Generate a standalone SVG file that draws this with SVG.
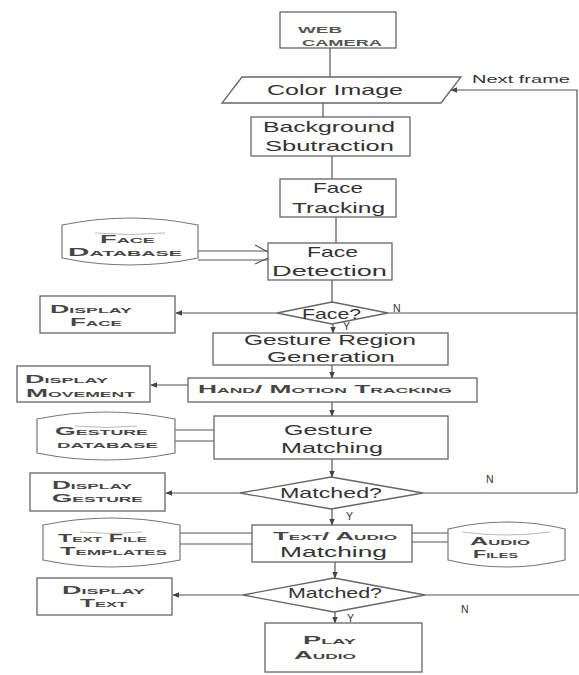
<svg xmlns="http://www.w3.org/2000/svg" width="579" height="675" viewBox="0 0 579 675">
<style>
.bx{fill:#fff;stroke:#666;stroke-width:1.3}
.cy{fill:#fff;stroke:#777;stroke-width:1.2}
.in{fill:none;stroke:#bbb;stroke-width:1}
.ln{fill:none;stroke:#555;stroke-width:1.2}
.t{font-family:"Liberation Sans",Arial,sans-serif;font-size:14.5px;fill:#333;text-anchor:start}
.sc{font-family:"Liberation Sans",Arial,sans-serif;font-size:10.5px;font-weight:bold;font-variant:small-caps;fill:#454545}
.cap{font-family:"Liberation Sans",Arial,sans-serif;font-size:9px;font-weight:bold;fill:#555}
.lb{font-family:"Liberation Sans",Arial,sans-serif;font-size:10.5px;fill:#333}
</style>
<defs>
<marker id="ah" viewBox="0 0 10 10" refX="9" refY="5" markerWidth="7" markerHeight="7" markerUnits="userSpaceOnUse" orient="auto">
<path d="M0,1 L10,5 L0,9 Z" fill="#444"/>
</marker>
</defs>
<rect width="579" height="675" fill="#fff"/>

<g id="connectors">
<path class="ln" d="M330,48 V77"/>
<path class="ln" d="M323,103 V117"/>
<path class="ln" d="M332,156 V179"/>
<path class="ln" d="M336,217 V243"/>
<path class="ln" d="M332,280 V302"/>
<path class="ln" d="M277,313 H176" marker-end="url(#ah)"/>
<path class="ln" d="M388,313 H577"/>
<path class="ln" d="M577,493 V90 H451" marker-end="url(#ah)"/>
<path class="ln" d="M333,324 V333" marker-end="url(#ah)"/>
<path class="ln" d="M332,365 V378" marker-end="url(#ah)"/>
<path class="ln" d="M188,385 H151" marker-end="url(#ah)"/>
<path class="ln" d="M332,402 V416" marker-end="url(#ah)"/>
<path class="ln" d="M175,430 H214 M175,441 H214"/>
<path class="ln" d="M332,459 V477" marker-end="url(#ah)"/>
<path class="ln" d="M240,493 H166" marker-end="url(#ah)"/>
<path class="ln" d="M423,493 H577"/>
<path class="ln" d="M332,509 V525" marker-end="url(#ah)"/>
<path class="ln" d="M180,533 H252 M180,544 H252"/>
<path class="ln" d="M412,533 H448 M412,542 H448"/>
<path class="ln" d="M335,562 V578" marker-end="url(#ah)"/>
<path class="ln" d="M243,595 H173" marker-end="url(#ah)"/>
<path class="ln" d="M425,595 H579"/>
<path class="ln" d="M335,612 V623" marker-end="url(#ah)"/>
<path class="ln" d="M198,251 H268 M198,260 H268"/>
<path class="ln" stroke-width="0.8" d="M255,245 L268,252 M255,264 L268,258"/>
<text class="lb" x="472" y="83" textLength="98" lengthAdjust="spacingAndGlyphs">Next frame</text>
<text class="lb" x="393" y="312">N</text>
<text class="lb" x="343" y="330">Y</text>
<text class="lb" x="486" y="483">N</text>
<text class="lb" x="346" y="520">Y</text>
<text class="lb" x="461" y="613">N</text>
<text class="lb" x="347" y="622">Y</text>
</g>

<g id="web-camera">
<rect class="bx" x="280" y="12" width="116" height="36"/>
<text class="cap" x="298" y="33" textLength="44" lengthAdjust="spacingAndGlyphs">WEB</text>
<text class="cap" x="302" y="46" textLength="80" lengthAdjust="spacingAndGlyphs">CAMERA</text>
</g>

<g id="color-image">
<path class="bx" d="M242,77 H461 L441,103 H222 Z"/>
<text class="t" x="267" y="95" textLength="136" lengthAdjust="spacingAndGlyphs">Color Image</text>
</g>

<g id="background-subtraction">
<rect class="bx" x="251" y="117" width="159" height="39"/>
<text class="t" x="263" y="132" textLength="132" lengthAdjust="spacingAndGlyphs">Background</text>
<text class="t" x="265" y="151" textLength="129" lengthAdjust="spacingAndGlyphs">Sbutraction</text>
</g>

<g id="face-tracking">
<rect class="bx" x="280" y="179" width="116" height="38"/>
<text class="t" x="313" y="193" textLength="50" lengthAdjust="spacingAndGlyphs">Face</text>
<text class="t" x="292" y="213" textLength="93" lengthAdjust="spacingAndGlyphs">Tracking</text>
</g>

<g id="face-database">
<path class="cy" d="M62,225 Q130,211 198,225 V258 Q130,272 62,258 Z"/>
<path class="in" d="M95,233 Q130,236 165,233"/>
<text class="sc" x="100" y="243" textLength="55" lengthAdjust="spacingAndGlyphs">Face</text>
<text class="sc" x="68" y="256" textLength="114" lengthAdjust="spacingAndGlyphs">Database</text>
</g>

<g id="face-detection">
<rect class="bx" x="268" y="243" width="124" height="37"/>
<text class="t" x="307" y="257" textLength="51" lengthAdjust="spacingAndGlyphs">Face</text>
<text class="t" x="272" y="276" textLength="115" lengthAdjust="spacingAndGlyphs">Detection</text>
</g>

<g id="face-decision">
<path class="bx" d="M332,302 L388,313 L332,324 L277,313 Z"/>
<text class="t" x="302" y="319" textLength="59" lengthAdjust="spacingAndGlyphs">Face?</text>
</g>

<g id="display-face">
<rect class="bx" x="40" y="296" width="135" height="37"/>
<text class="sc" x="50" y="313" textLength="82" lengthAdjust="spacingAndGlyphs">Display</text>
<text class="sc" x="70" y="326" textLength="52" lengthAdjust="spacingAndGlyphs">Face</text>
</g>

<g id="gesture-region">
<rect class="bx" x="213" y="333" width="235" height="32"/>
<text class="t" x="244" y="345" textLength="172" lengthAdjust="spacingAndGlyphs">Gesture Region</text>
<text class="t" x="267" y="362" textLength="128" lengthAdjust="spacingAndGlyphs">Generation</text>
</g>

<g id="hand-motion-tracking">
<rect class="bx" x="188" y="378" width="289" height="24"/>
<text class="sc" x="198" y="393" textLength="254" lengthAdjust="spacingAndGlyphs">Hand/ Motion Tracking</text>
</g>

<g id="display-movement">
<rect class="bx" x="17" y="366" width="133" height="36"/>
<text class="sc" x="25" y="383" textLength="83" lengthAdjust="spacingAndGlyphs">Display</text>
<text class="sc" x="26" y="397" textLength="109" lengthAdjust="spacingAndGlyphs">Movement</text>
</g>

<g id="gesture-database">
<path class="cy" d="M37,419 Q106,405 175,419 V453 Q106,467 37,453 Z"/>
<path class="in" d="M75,426 Q106,429 137,426"/>
<text class="sc" x="55" y="435" textLength="93" lengthAdjust="spacingAndGlyphs">Gesture</text>
<text class="sc" x="57" y="448" textLength="101" lengthAdjust="spacingAndGlyphs">database</text>
</g>

<g id="gesture-matching">
<rect class="bx" x="214" y="416" width="234" height="43"/>
<text class="t" x="284" y="435" textLength="89" lengthAdjust="spacingAndGlyphs">Gesture</text>
<text class="t" x="281" y="453" textLength="102" lengthAdjust="spacingAndGlyphs">Matching</text>
</g>

<g id="gesture-decision">
<path class="bx" d="M331,477 L423,493 L331,509 L240,493 Z"/>
<text class="t" x="280" y="498" textLength="102" lengthAdjust="spacingAndGlyphs">Matched?</text>
</g>

<g id="display-gesture">
<rect class="bx" x="30" y="473" width="135" height="38"/>
<text class="sc" x="52" y="489" textLength="80" lengthAdjust="spacingAndGlyphs">Display</text>
<text class="sc" x="52" y="502" textLength="91" lengthAdjust="spacingAndGlyphs">Gesture</text>
</g>

<g id="text-file-templates">
<path class="cy" d="M43,525 Q111,511 180,525 V560 Q111,574 43,560 Z"/>
<path class="in" d="M80,532 Q111,535 142,532"/>
<text class="sc" x="58" y="542" textLength="89" lengthAdjust="spacingAndGlyphs">Text File</text>
<text class="sc" x="60" y="555" textLength="107" lengthAdjust="spacingAndGlyphs">Templates</text>
</g>

<g id="text-audio-matching">
<rect class="bx" x="252" y="525" width="160" height="37"/>
<text class="sc" x="273" y="540" textLength="124" lengthAdjust="spacingAndGlyphs">Text/ Audio</text>
<text class="t" x="280" y="557" textLength="107" lengthAdjust="spacingAndGlyphs">Matching</text>
</g>

<g id="audio-files">
<path class="cy" d="M448,529 Q506,515 565,529 V560 Q506,574 448,560 Z"/>
<path class="in" d="M462,532 Q506,538 550,532"/>
<text class="sc" x="470" y="545" textLength="60" lengthAdjust="spacingAndGlyphs">Audio</text>
<text class="sc" x="473" y="558" textLength="45" lengthAdjust="spacingAndGlyphs">Files</text>
</g>

<g id="text-decision">
<path class="bx" d="M334,578 L425,595 L334,612 L243,595 Z"/>
<text class="t" x="288" y="598" textLength="94" lengthAdjust="spacingAndGlyphs">Matched?</text>
</g>

<g id="display-text">
<rect class="bx" x="37" y="578" width="135" height="37"/>
<text class="sc" x="62" y="594" textLength="83" lengthAdjust="spacingAndGlyphs">Display</text>
<text class="sc" x="80" y="607" textLength="47" lengthAdjust="spacingAndGlyphs">Text</text>
</g>

<g id="play-audio">
<rect class="bx" x="265" y="623" width="157" height="49"/>
<text class="sc" x="303" y="644" textLength="53" lengthAdjust="spacingAndGlyphs">Play</text>
<text class="sc" x="294" y="659" textLength="62" lengthAdjust="spacingAndGlyphs">Audio</text>
</g>
</svg>
